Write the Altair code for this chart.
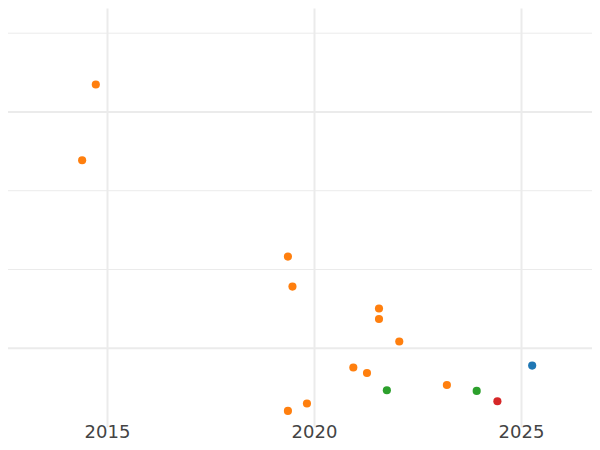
import altair as alt
import pandas as pd

# Data
years = [2014.73, 2014.40, 2019.37, 2019.48, 2021.57, 2021.57, 2022.06, 2020.95,
         2021.28, 2021.76, 2023.21, 2023.93, 2024.43, 2025.27, 2019.37, 2019.83]
values = [4.349, 3.387, 2.164, 1.783, 1.504, 1.372, 1.085, 0.755,
          0.686, 0.467, 0.534, 0.458, 0.327, 0.780, 0.204, 0.298]
groups = ["B", "B", "B", "B", "B", "B", "B", "B",
          "B", "C", "B", "C", "D", "A", "B", "B"]

group_names = ["A", "B", "C", "D"]
group_colors = ["#1f77b4", "#ff7f0e", "#2ca02c", "#d62728"]

x_ticks = [2015, 2020, 2025]
major_grid = [1, 4]
minor_grid = [2, 3, 5]

df = pd.DataFrame({"year": years, "value": values, "group": groups})
major_df = pd.DataFrame({"g": major_grid})
minor_df = pd.DataFrame({"g": minor_grid})

x_scale = alt.Scale(domain=[2012.609, 2026.715], nice=False, zero=False)
y_scale = alt.Scale(domain=[0, 5.32], nice=False, zero=False)

major = alt.Chart(major_df).mark_rule(color="#ebebeb", strokeWidth=2).encode(
    y=alt.Y("g:Q", scale=y_scale, axis=None)
)
minor = alt.Chart(minor_df).mark_rule(color="#ebebeb", strokeWidth=1).encode(
    y=alt.Y("g:Q", scale=y_scale, axis=None)
)

points = alt.Chart(df).mark_circle(size=66, opacity=1).encode(
    x=alt.X("year:Q", scale=x_scale,
            axis=alt.Axis(values=x_ticks, format="d", title=None, grid=True,
                          gridColor="#ebebeb", gridWidth=2, domain=False,
                          ticks=False, labelFont="DejaVu Sans", labelFontSize=18,
                          labelColor="#444444", labelPadding=-4)),
    y=alt.Y("value:Q", scale=y_scale, axis=None),
    color=alt.Color("group:N", scale=alt.Scale(domain=group_names, range=group_colors),
                    legend=None),
)

chart = alt.layer(major, minor, points).properties(
    width=584, height=419,
    autosize=alt.AutoSizeParams(type="none"),
    padding={"left": 0, "top": 0, "right": 0, "bottom": 15},
).configure_view(stroke=None)

chart.save("out.html", embed_options={"renderer": "svg", "actions": False})
